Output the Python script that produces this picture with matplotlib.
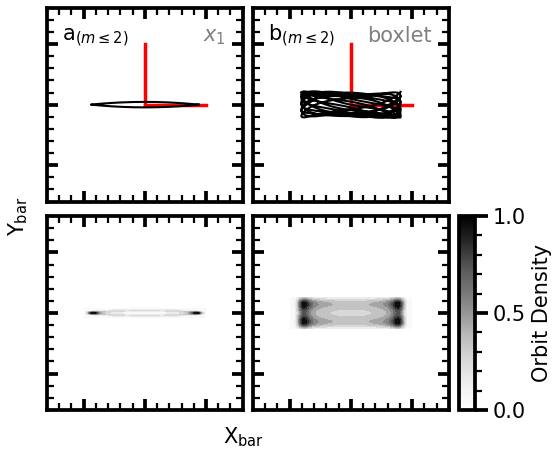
import numpy as np
import matplotlib
matplotlib.use("Agg")
import matplotlib.pyplot as plt
from matplotlib.ticker import MultipleLocator
from matplotlib.cm import ScalarMappable
from matplotlib.colors import Normalize

# orbit families: half-widths along the bar (x) and across it (y)
X1_AMP = (0.88, 0.045)
BOX_AMP = (0.81, 0.22)
BOX_FREQ = (1.0, 1.09, 3.13)   # x, y and secondary y frequencies of the boxlet
BOX_MIX = 0.13                 # weight of the secondary y term
BOX_PHASE = 0.3
BOX_PERIODS = 9                # periods drawn in the orbit panel
DENS_PERIODS = 400             # periods used for the density maps
AXIS_LEN = 1.0                 # length of the bar principal-axis markers
LIM = 1.6

TAGS = [r"a$_{(m \leq 2)}$", r"b$_{(m \leq 2)}$"]
NAMES = [r"$x_1$", "boxlet"]
CBAR_TICKS = [0.0, 0.5, 1.0]


def x1_orbit(n_periods, n=4000):
    t = np.linspace(0, 2 * np.pi * n_periods, n * n_periods)
    s = np.sin(t)
    return X1_AMP[0] * np.cos(t), X1_AMP[1] * s * np.abs(s)


def boxlet_orbit(n_periods, n=4000):
    t = np.linspace(0, 2 * np.pi * n_periods, n * n_periods)
    x = BOX_AMP[0] * np.cos(BOX_FREQ[0] * t)
    y = BOX_AMP[1] * ((1 - BOX_MIX) * np.cos(BOX_FREQ[1] * t + BOX_PHASE)
                      + BOX_MIX * np.cos(BOX_FREQ[2] * t))
    return x, y


def smooth(img, sig):
    # separable gaussian blur, sig given per axis (x bins, y bins)
    for axis, s in enumerate(sig):
        k = np.arange(-3 * int(np.ceil(s)), 3 * int(np.ceil(s)) + 1)
        g = np.exp(-0.5 * (k / s) ** 2)
        g /= g.sum()
        img = np.apply_along_axis(lambda r: np.convolve(r, g, mode="same"), axis, img)
    return img


def density(x, y, xr, yr, bins, sig):
    h, xe, ye = np.histogram2d(x, y, bins=bins, range=[xr, yr])
    h = smooth(h, sig)
    h /= h.max()
    xc = 0.5 * (xe[1:] + xe[:-1])
    yc = 0.5 * (ye[1:] + ye[:-1])
    return xc, yc, h.T


def style(ax):
    ax.set_xlim(-LIM, LIM)
    ax.set_ylim(-LIM, LIM)
    for a in (ax.xaxis, ax.yaxis):
        a.set_major_locator(MultipleLocator(1))
        a.set_minor_locator(MultipleLocator(0.2))
    ax.tick_params(which="both", direction="in", top=True, right=True,
                   labelbottom=False, labelleft=False)
    ax.tick_params(which="major", length=8, width=2.7)
    ax.tick_params(which="minor", length=5, width=1.6)
    for sp in ax.spines.values():
        sp.set_linewidth(2.7)


fig = plt.figure(figsize=(5.58, 4.51), dpi=100)
lefts = [0.084, 0.4534]
w, h = 0.351, 0.43
axes_top = [fig.add_axes([l, 0.553, w, h]) for l in lefts]
axes_bot = [fig.add_axes([l, 0.091, w, h]) for l in lefts]

orbits = [x1_orbit, boxlet_orbit]
for ax, orbit, tag, name in zip(axes_top, orbits, TAGS, NAMES):
    style(ax)
    ax.plot([0, 0], [0, AXIS_LEN], color="red", lw=2.5, zorder=2)
    ax.plot([0, AXIS_LEN], [0, 0], color="red", lw=2.5, zorder=2)
    x, y = orbit(BOX_PERIODS if orbit is boxlet_orbit else 1)
    ax.plot(x, y, color="black", lw=1.5, zorder=3)
    ax.text(0.075, 0.83, tag, transform=ax.transAxes, fontsize=15,
            ha="left", va="baseline")
    ax.text(0.915, 0.825, name, transform=ax.transAxes, fontsize=15,
            ha="right", va="baseline", color="grey")

levels = np.linspace(0, 1, 11)
dens_cfg = [
    (x1_orbit, (-1.0, 1.0), (-0.08, 0.08), (80, 12), (2.0, 1.0)),
    (boxlet_orbit, (-1.0, 1.0), (-0.27, 0.27), (90, 26), (2.6, 2.4)),
]
for ax, (orbit, xr, yr, bins, sig) in zip(axes_bot, dens_cfg):
    style(ax)
    x, y = orbit(DENS_PERIODS, n=600)
    xc, yc, d = density(x, y, xr, yr, bins, sig)
    ax.contourf(xc, yc, d, levels=levels, cmap="Greys", vmin=0, vmax=1)

cax = fig.add_axes([0.8226, 0.091, 0.0287, h])
cb = fig.colorbar(ScalarMappable(Normalize(0, 1), cmap="Greys"), cax=cax)
cb.set_ticks(CBAR_TICKS)
cb.ax.yaxis.set_minor_locator(MultipleLocator(0.1))
cb.ax.tick_params(which="major", length=9, width=2.7, labelsize=15, pad=4)
cb.ax.tick_params(which="minor", length=5, width=1.6)
cb.outline.set_linewidth(2.7)
cb.set_label("Orbit Density", fontsize=15, labelpad=4)

fig.text(0.032, 0.52, r"Y$_{\rm bar}$", rotation=90, fontsize=15,
         ha="center", va="center")
fig.text(0.436, 0.031, r"X$_{\rm bar}$", fontsize=15, ha="center", va="center")

fig.savefig("out.png", dpi=100)
